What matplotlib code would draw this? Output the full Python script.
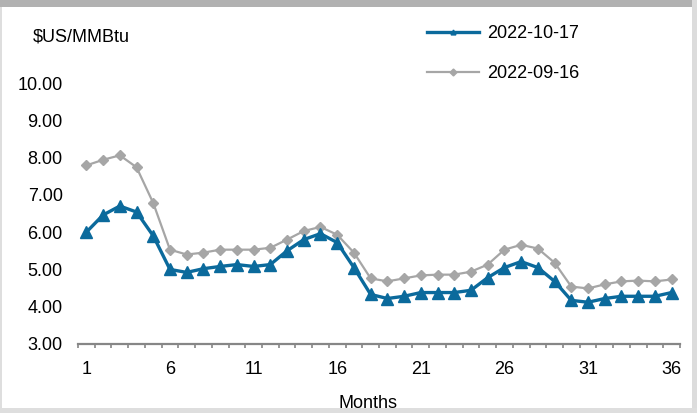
import matplotlib
matplotlib.use("Agg")
import matplotlib.pyplot as plt
from matplotlib.patches import Rectangle
import numpy as np

plt.rcParams['font.family'] = ['Liberation Sans', 'DejaVu Sans']

months = list(range(1, 37))
series_oct = [6.00, 6.46, 6.70, 6.54, 5.90, 5.00, 4.92, 5.02, 5.08, 5.13, 5.08, 5.13,
              5.50, 5.80, 5.96, 5.72, 5.05, 4.33, 4.22, 4.28, 4.38, 4.38, 4.38, 4.44,
              4.78, 5.05, 5.21, 5.05, 4.68, 4.17, 4.12, 4.22, 4.28, 4.28, 4.28, 4.38]
series_sep = [7.79, 7.94, 8.06, 7.74, 6.78, 5.53, 5.40, 5.45, 5.53, 5.53, 5.53, 5.58,
              5.80, 6.03, 6.14, 5.93, 5.45, 4.76, 4.68, 4.76, 4.84, 4.86, 4.86, 4.94,
              5.13, 5.53, 5.66, 5.56, 5.18, 4.54, 4.49, 4.60, 4.68, 4.70, 4.68, 4.73]
labels = ['2022-10-17', '2022-09-16']
xtick_labels = [1, 6, 11, 16, 21, 26, 31, 36]
yticks = [3, 4, 5, 6, 7, 8, 9, 10]

W, H = 697, 413
fs = 13
fig = plt.figure(figsize=(W / 100, H / 100), dpi=100)
fig.patch.set_facecolor('white')

ax = fig.add_axes([78 / W, (H - 344) / H, (680 - 78) / W, (344 - 83) / H])
ax.set_facecolor('none')

ax.plot(months, series_sep, color='#A6A6A6', lw=1.6, marker='D', ms=5.5,
        mec='#A6A6A6', mfc='#A6A6A6', label=labels[1], zorder=2)
ax.plot(months, series_oct, color='#0B6A9C', lw=2.4, marker='^', ms=8,
        mec='#0B6A9C', mfc='#0B6A9C', label=labels[0], zorder=3)

ax.set_xlim(0.5, 36.5)
ax.set_ylim(3, 10)
ax.set_yticks(yticks)
ax.set_yticklabels([f'{v:.2f}' for v in yticks])
ax.set_xticks(xtick_labels)
ax.set_xticklabels([str(v) for v in xtick_labels])
ax.set_xticks(np.arange(0.5, 37, 1.0), minor=True)
ax.tick_params(axis='y', length=0, pad=11, labelsize=fs, labelcolor='#000000')
ax.tick_params(axis='x', which='major', length=0, pad=12, labelsize=fs)
ax.tick_params(axis='x', which='minor', length=3, width=1.2, color='#868686', direction='out')

for s in ['top', 'right', 'left']:
    ax.spines[s].set_visible(False)
ax.spines['bottom'].set_color('#868686')
ax.spines['bottom'].set_linewidth(1.6)

fig.text(368 / W, 1 - 404 / H, 'Months', ha='center', va='center', fontsize=fs)
fig.text(33 / W, 1 - 37 / H, r'\$US/MMBtu', ha='left', va='center', fontsize=fs)

handles, lbls = ax.get_legend_handles_labels()
leg = fig.legend(handles[::-1], lbls[::-1], loc='upper left',
                 bbox_to_anchor=(427 / W, 1 - 25 / H), bbox_transform=fig.transFigure,
                 frameon=False, fontsize=fs, handlelength=2.9, handletextpad=0.45,
                 labelspacing=1.28, borderpad=0, borderaxespad=0, numpoints=1)
for h in leg.legend_handles:
    h.set_markersize(3.5)

# frame bands
fig.patches.append(Rectangle((0, 1 - 7 / H), 1, 7 / H, transform=fig.transFigure,
                             facecolor='#B1B1B1', edgecolor='none', zorder=10))
fig.patches.append(Rectangle((692 / W, 0), 5 / W, 1, transform=fig.transFigure,
                             facecolor='#DCDCDC', edgecolor='none', zorder=10))
fig.patches.append(Rectangle((0, 0), 1, 5 / H, transform=fig.transFigure,
                             facecolor='#DEDEDE', edgecolor='none', zorder=10))
fig.patches.append(Rectangle((0, 0), 2 / W, 1 - 7 / H, transform=fig.transFigure,
                             facecolor='#DEDEDE', edgecolor='none', zorder=10))

fig.savefig('out.png', dpi=100)
